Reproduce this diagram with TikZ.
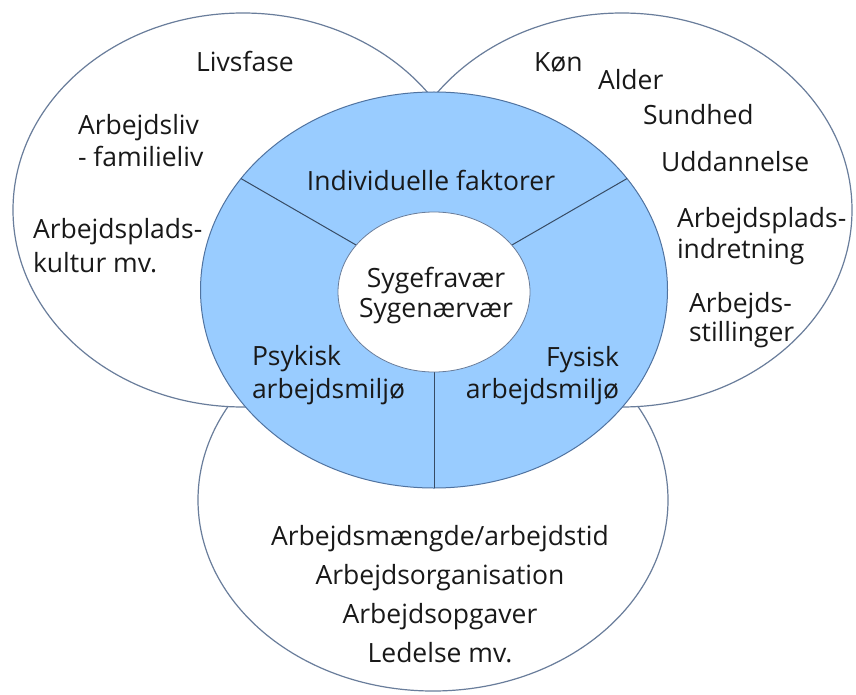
\documentclass[tikz,border=0pt]{standalone}
\usepackage{fontspec}
\setmainfont{Open Sans}
\usetikzlibrary{shapes.geometric}
\definecolor{outl}{RGB}{105,125,155}
\definecolor{bluefill}{RGB}{153,204,255}
\definecolor{blueedge}{RGB}{80,115,160}
\definecolor{divline}{RGB}{55,75,100}
\definecolor{txt}{RGB}{25,25,25}
\tikzset{
  oval/.style={ellipse, inner sep=0pt, outer sep=0pt, draw=outl, line width=1.2pt, fill=white},
  lbl/.style={inner sep=0pt, outer sep=0pt, text=txt, font=\fontsize{26.5}{32}\selectfont},
}
\begin{document}
\begin{tikzpicture}[x=1pt,y=-1pt]
\useasboundingbox[fill=white] (0,0) rectangle (856,695);
% outer ellipses
\node[oval, minimum width=470pt, minimum height=382pt] (bot) at (433,500) {};
\node[oval, minimum width=460pt, minimum height=394pt] (left) at (243,210) {};
\node[oval, minimum width=460pt, minimum height=394pt] (right) at (622,210) {};
% blue ring
\node[ellipse, inner sep=0pt, outer sep=0pt, draw=blueedge, line width=1pt, fill=bluefill,
      minimum width=467pt, minimum height=396pt] (blue) at (434,290) {};
\draw[divline, line width=1pt] (blue.150) -- (434,290);
\draw[divline, line width=1pt] (blue.30) -- (434,290);
\draw[divline, line width=1pt] (blue.south) -- (434,290);
\node[oval, line width=0.8pt, minimum width=192pt, minimum height=160pt] (inner) at (434,292) {};
% texts
\node[lbl, anchor=base] (t1) at (245,72) {Livsfase};
\node[lbl, anchor=base west] (t2) at (78,135) {\begin{tabular}[t]{@{}l@{}}Arbejdsliv\\- familieliv\end{tabular}};
\node[lbl, anchor=base west] (t3) at (33,238) {\fontsize{26.5}{34}\selectfont\begin{tabular}[t]{@{}l@{}}Arbejdsplads-\\kultur mv.\end{tabular}};
\node[lbl, anchor=base] (t4) at (431,190) {Individuelle faktorer};
\node[lbl, anchor=base] (t5) at (436,287) {\fontsize{26.5}{30}\selectfont\begin{tabular}[t]{@{}c@{}}Sygefravær\\Sygenærvær\end{tabular}};
\node[lbl, anchor=base west] (t6) at (252,365) {\fontsize{26.5}{33}\selectfont\begin{tabular}[t]{@{}l@{}}Psykisk\\arbejdsmiljø\end{tabular}};
\node[lbl, anchor=base east] (t7) at (619,366) {\begin{tabular}[t]{@{}r@{}}Fysisk\\arbejdsmiljø\end{tabular}};
\node[lbl, anchor=base west] (t8) at (534,72) {Køn};
\node[lbl, anchor=base west] (t9) at (598,90) {Alder};
\node[lbl, anchor=base west] (t10) at (643,125) {Sundhed};
\node[lbl, anchor=base west] (t11) at (661,172) {Uddannelse};
\node[lbl, anchor=base west] (t12) at (677,227) {\fontsize{26.5}{31}\selectfont\begin{tabular}[t]{@{}l@{}}Arbejdsplads-\\indretning\end{tabular}};
\node[lbl, anchor=base west] (t13) at (689,312) {\fontsize{26.5}{29}\selectfont\begin{tabular}[t]{@{}l@{}}Arbejds-\\stillinger\end{tabular}};
\node[lbl, anchor=base] (t14) at (440,545) {\fontsize{26.5}{39}\selectfont\begin{tabular}[t]{@{}c@{}}Arbejdsmængde/arbejdstid\\Arbejdsorganisation\\Arbejdsopgaver\\Ledelse mv.\end{tabular}};
\end{tikzpicture}
\end{document}
